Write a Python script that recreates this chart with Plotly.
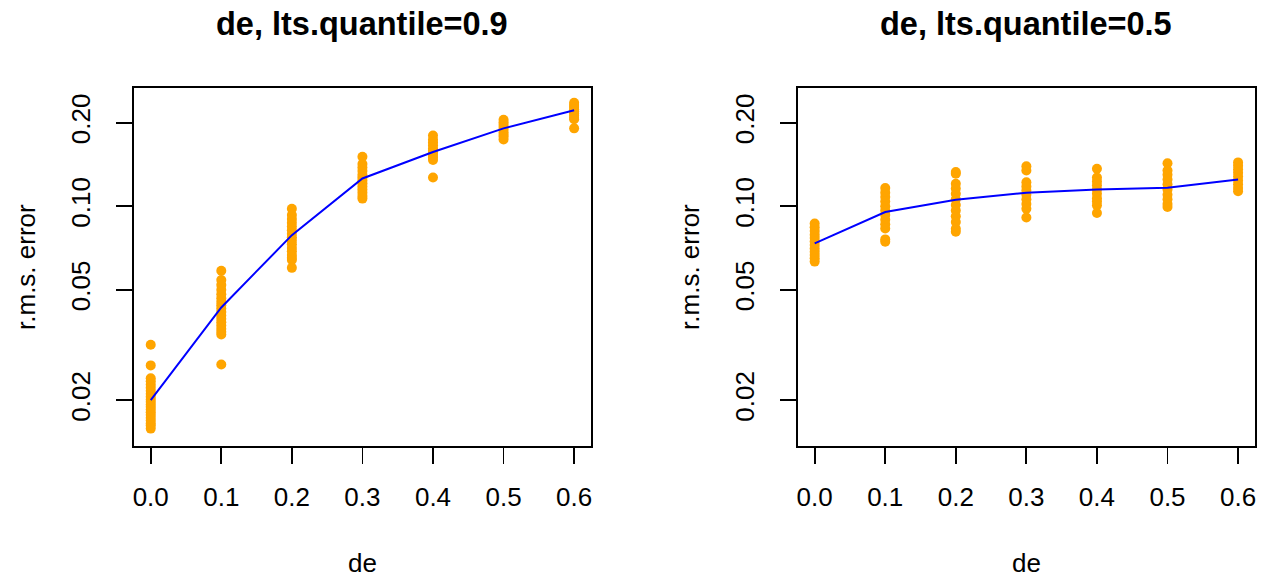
import plotly.graph_objects as go

# ---------------- data ----------------
de_levels = [0.0, 0.1, 0.2, 0.3, 0.4, 0.5, 0.6]
x_tick_labels = ["0.0", "0.1", "0.2", "0.3", "0.4", "0.5", "0.6"]
y_tick_vals = [0.02, 0.05, 0.10, 0.20]
y_tick_labels = ["0.02", "0.05", "0.10", "0.20"]

# lts.quantile = 0.9 : r.m.s. error of each replicate, per de level
q09_de00 = [0.0317, 0.0267, 0.0240, 0.0234, 0.0228, 0.0222, 0.0216, 0.0211, 0.0206, 0.0201,
            0.0197, 0.0193, 0.0189, 0.0185, 0.0181, 0.0177, 0.0173, 0.0169, 0.0165, 0.0162, 0.0158]
q09_de01 = [0.0586, 0.0542, 0.0520, 0.0500, 0.0482, 0.0466, 0.0452, 0.0440, 0.0428, 0.0416,
            0.0404, 0.0393, 0.0382, 0.0372, 0.0362, 0.0353, 0.0345, 0.0269]
q09_de02 = [0.0980, 0.0930, 0.0900, 0.0872, 0.0845, 0.0820, 0.0796, 0.0774, 0.0752, 0.0730,
            0.0708, 0.0688, 0.0668, 0.0652, 0.0640, 0.0600]
q09_de03 = [0.1510, 0.1420, 0.1380, 0.1340, 0.1300, 0.1270, 0.1240, 0.1210, 0.1180, 0.1150,
            0.1120, 0.1090, 0.1066]
q09_de04 = [0.1800, 0.1740, 0.1700, 0.1660, 0.1620, 0.1590, 0.1560, 0.1530, 0.1500, 0.1470, 0.1270]
q09_de05 = [0.2050, 0.2010, 0.1970, 0.1930, 0.1890, 0.1850, 0.1810, 0.1780, 0.1740]
q09_de06 = [0.2360, 0.2320, 0.2280, 0.2240, 0.2200, 0.2160, 0.2120, 0.2080, 0.2060, 0.1910]
q09_points = [q09_de00, q09_de01, q09_de02, q09_de03, q09_de04, q09_de05, q09_de06]
q09_summary = [0.0200, 0.0432, 0.0787, 0.1260, 0.1570, 0.1910, 0.2220]

# lts.quantile = 0.5
q05_de00 = [0.0867, 0.0840, 0.0815, 0.0790, 0.0768, 0.0746, 0.0725, 0.0705, 0.0686, 0.0668,
            0.0650, 0.0632]
q05_de01 = [0.1163, 0.1120, 0.1080, 0.1040, 0.1000, 0.0965, 0.0930, 0.0895, 0.0862, 0.0832,
            0.0760, 0.0745]
q05_de02 = [0.1330, 0.1310, 0.1206, 0.1160, 0.1110, 0.1060, 0.1010, 0.0965, 0.0920, 0.0878,
            0.0830, 0.0810]
q05_de03 = [0.1395, 0.1346, 0.1220, 0.1180, 0.1140, 0.1100, 0.1060, 0.1020, 0.0980, 0.0911]
q05_de04 = [0.1365, 0.1270, 0.1230, 0.1190, 0.1150, 0.1110, 0.1070, 0.1040, 0.1008, 0.0946]
q05_de05 = [0.1430, 0.1346, 0.1300, 0.1250, 0.1200, 0.1150, 0.1100, 0.1060, 0.1020, 0.0995]
q05_de06 = [0.1440, 0.1400, 0.1360, 0.1320, 0.1280, 0.1240, 0.1200, 0.1165, 0.1134]
q05_points = [q05_de00, q05_de01, q05_de02, q05_de03, q05_de04, q05_de05, q05_de06]
q05_summary = [0.0735, 0.0954, 0.1057, 0.1120, 0.1150, 0.1167, 0.1249]

panel_titles = ["de, lts.quantile=0.9", "de, lts.quantile=0.5"]
x_title = "de"
y_title = "r.m.s. error"

# ---------------- figure ----------------
W, H = 1265, 579
FONT = "Liberation Sans, Arial, sans-serif"
ORANGE = "#FFA500"
BLUE = "#0000FF"

# plot boxes in pixels (left, right, top, bottom)
boxes = [(133, 591, 88, 446), (798, 1256, 88, 446)]

fig = go.Figure()

for i, (pts, summ) in enumerate([(q09_points, q09_summary), (q05_points, q05_summary)]):
    xs, ys = [], []
    for lvl, vals in zip(de_levels, pts):
        xs += [lvl] * len(vals)
        ys += vals
    xa = "x" if i == 0 else "x2"
    ya = "y" if i == 0 else "y2"
    fig.add_trace(go.Scatter(x=xs, y=ys, mode="markers", xaxis=xa, yaxis=ya,
                             marker=dict(color=ORANGE, size=10, line=dict(width=0)),
                             showlegend=False, hoverinfo="skip"))
    fig.add_trace(go.Scatter(x=de_levels, y=summ, mode="lines", xaxis=xa, yaxis=ya,
                             line=dict(color=BLUE, width=2),
                             showlegend=False, hoverinfo="skip"))

xaxis_common = dict(range=[-0.024, 0.624], tickvals=de_levels, ticktext=x_tick_labels,
                    ticks="outside", ticklen=16, tickwidth=1.8, tickcolor="black",
                    showline=True, linecolor="black", linewidth=2, mirror=True,
                    showgrid=False, zeroline=False,
                    tickfont=dict(family=FONT, size=26, color="black"),
                    ticklabelstandoff=11)
yaxis_common = dict(type="log", range=[-1.864, -0.5735], tickvals=y_tick_vals,
                    ticktext=y_tick_labels, tickangle=-90,
                    ticks="outside", ticklen=16, tickwidth=1.8, tickcolor="black",
                    showline=True, linecolor="black", linewidth=2, mirror=True,
                    showgrid=False, zeroline=False,
                    tickfont=dict(family=FONT, size=26, color="black"),
                    ticklabelstandoff=15)

layout = dict(width=W, height=H, margin=dict(l=0, r=0, t=0, b=0),
              paper_bgcolor="white", plot_bgcolor="white", showlegend=False)
for i, (l, r, t, b) in enumerate(boxes):
    sfx = "" if i == 0 else "2"
    layout["xaxis" + sfx] = dict(xaxis_common, domain=[l / W, r / W], anchor="y" + sfx)
    layout["yaxis" + sfx] = dict(yaxis_common, domain=[1 - b / H, 1 - t / H], anchor="x" + sfx)
fig.update_layout(**layout)

annotations = []
for i, (l, r, t, b) in enumerate(boxes):
    cx = (l + r) / 2 / W
    annotations.append(dict(text="<b>" + panel_titles[i] + "</b>", x=cx, y=1 - 24 / H,
                            xref="paper", yref="paper", xanchor="center", yanchor="middle",
                            showarrow=False, font=dict(family=FONT, size=32.5, color="black")))
    annotations.append(dict(text=x_title, x=cx, y=1 - 563 / H,
                            xref="paper", yref="paper", xanchor="center", yanchor="middle",
                            showarrow=False, font=dict(family=FONT, size=26, color="black")))
    annotations.append(dict(text=y_title, x=(l - 108) / W, y=1 - (t + b) / 2 / H,
                            xref="paper", yref="paper", xanchor="center", yanchor="middle",
                            textangle=-90,
                            showarrow=False, font=dict(family=FONT, size=26, color="black")))
fig.update_layout(annotations=annotations)

fig.write_html("out.html", config={"displayModeBar": False, "staticPlot": True},
               post_script="document.body.style.margin='0';document.body.style.padding='0';")
